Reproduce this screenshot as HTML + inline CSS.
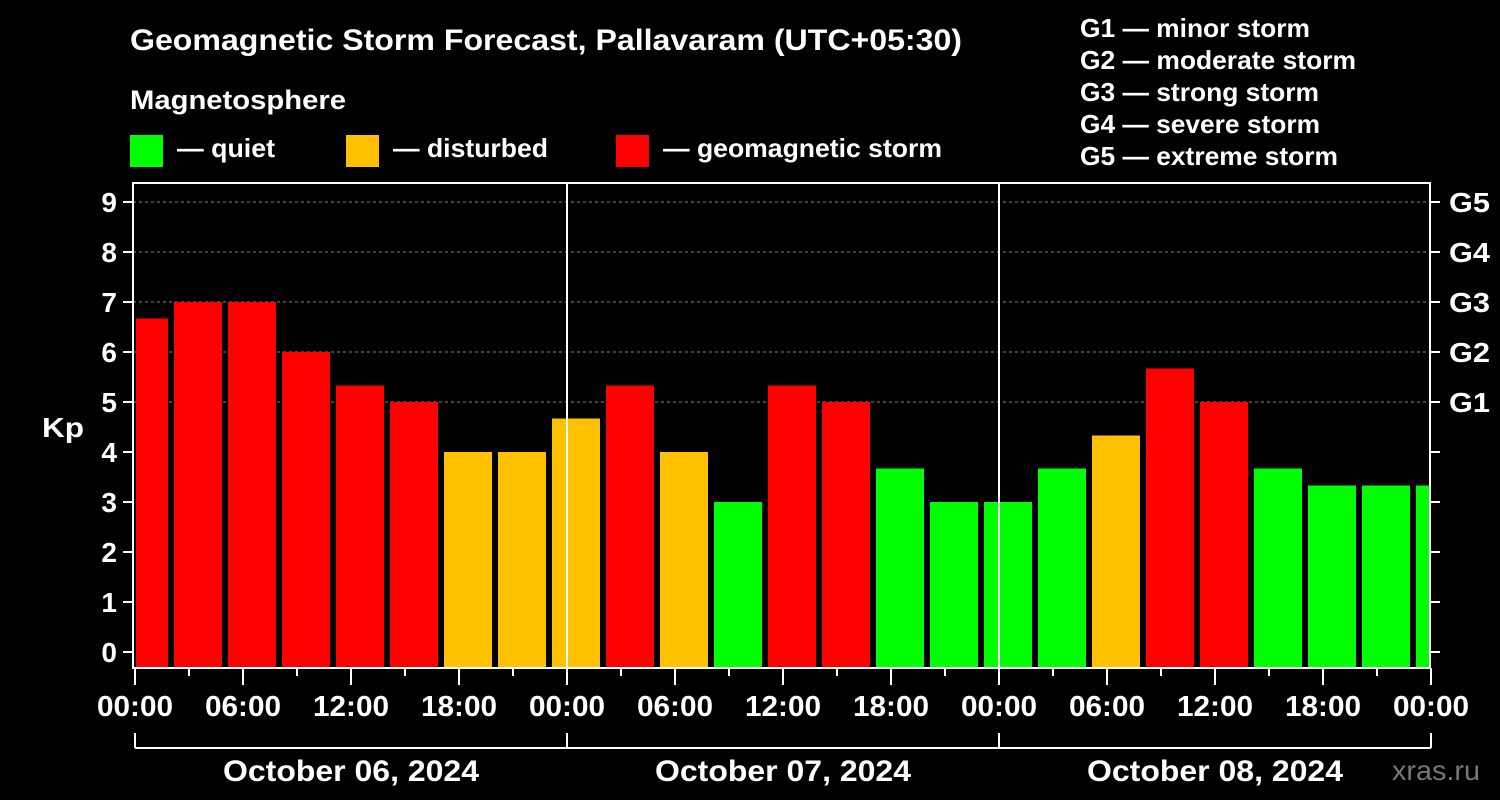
<!DOCTYPE html>
<html><head><meta charset="utf-8"><style>
html,body{margin:0;padding:0;background:#000;}
svg{display:block;font-family:"Liberation Sans",sans-serif;font-weight:bold;}
</style></head><body>
<svg id="chart" width="1500" height="800" viewBox="0 0 1500 800">
<rect width="1500" height="800" fill="#000"/>
<text x="130" y="50" fill="#fff" font-size="30" textLength="832" lengthAdjust="spacingAndGlyphs">Geomagnetic Storm Forecast, Pallavaram (UTC+05:30)</text>
<text x="130" y="109" fill="#fff" font-size="27" textLength="216" lengthAdjust="spacingAndGlyphs">Magnetosphere</text>
<g><rect x="130" y="135" width="33" height="32" fill="#00ff00"/><text x="177" y="157" fill="#fff" font-size="26" textLength="98" lengthAdjust="spacingAndGlyphs">— quiet</text></g>
<g><rect x="346" y="135" width="33" height="32" fill="#ffc000"/><text x="393" y="157" fill="#fff" font-size="26" textLength="155" lengthAdjust="spacingAndGlyphs">— disturbed</text></g>
<g><rect x="616" y="135" width="33" height="32" fill="#ff0000"/><text x="663" y="157" fill="#fff" font-size="26" textLength="279" lengthAdjust="spacingAndGlyphs">— geomagnetic storm</text></g>
<g fill="#fff" font-size="26">
<text x="1080" y="37" textLength="230" lengthAdjust="spacingAndGlyphs">G1 — minor storm</text>
<text x="1080" y="69" textLength="276" lengthAdjust="spacingAndGlyphs">G2 — moderate storm</text>
<text x="1080" y="101" textLength="239" lengthAdjust="spacingAndGlyphs">G3 — strong storm</text>
<text x="1080" y="133" textLength="240" lengthAdjust="spacingAndGlyphs">G4 — severe storm</text>
<text x="1080" y="165" textLength="258" lengthAdjust="spacingAndGlyphs">G5 — extreme storm</text>
</g>
<text x="42" y="437" fill="#fff" font-size="28" textLength="42" lengthAdjust="spacingAndGlyphs">Kp</text>
<text x="1392" y="780" fill="#777" font-size="28" font-weight="normal" textLength="88" lengthAdjust="spacingAndGlyphs">xras.ru</text>
<g id="plot"></g>
</svg>
<script>
const kpValues=[6.67,7,7,6,5.33,5,4,4,4.67,5.33,4,3,5.33,5,3.67,3,3,3.67,4.33,5.67,5,3.67,3.33,3.33,3.33];
const yTicks=[0,1,2,3,4,5,6,7,8,9];
const gLabels=["G1","G2","G3","G4","G5"];
const hourLabels=["00:00","06:00","12:00","18:00","00:00","06:00","12:00","18:00","00:00","06:00","12:00","18:00","00:00"];
const dateLabels=["October 06, 2024","October 07, 2024","October 08, 2024"];
const NS="http://www.w3.org/2000/svg";
const g=document.getElementById('plot');
const L=133,R=1430,T=183,B=668;
const y=v=>652-v*50;
const xh=h=>135+h*18;
function mk(t,a){const e=document.createElementNS(NS,t);for(const k in a)e.setAttribute(k,a[k]);g.appendChild(e);return e;}
for(let v=5;v<=9;v++){const l=mk('line',{x1:L,x2:R,y1:y(v),y2:y(v),stroke:'#888','stroke-dasharray':'3,3'});

}
kpValues.forEach((v,i)=>{const c=xh(0.5+3*i);let x0=Math.max(c-24,136),x1=Math.min(c+24,R);
const col=v>=5?'#ff0000':(v>=4?'#ffc000':'#00ff00');
const r=mk('rect',{x:x0,y:y(v),width:x1-x0,height:B-1-y(v),fill:col});

});
[1,2].forEach(d=>{const l=mk('line',{x1:xh(24*d),x2:xh(24*d),y1:T,y2:B,stroke:'#fff','stroke-width':2});

});
const f=mk('rect',{x:L,y:T,width:R-L,height:B-T,fill:'none',stroke:'#fff','stroke-width':2});


yTicks.forEach(v=>{mk('line',{x1:L-10,x2:L,y1:y(v),y2:y(v),stroke:'#fff','stroke-width':2});
mk('line',{x1:R,x2:R+10,y1:y(v),y2:y(v),stroke:'#fff','stroke-width':2});
const t=mk('text',{x:L-16,y:y(v)+10,fill:'#fff','font-size':28,'text-anchor':'end'});t.textContent=v;

});
gLabels.forEach((s,i)=>{const t=mk('text',{x:1449,y:y(5+i)+10,fill:'#fff','font-size':28,textLength:41,lengthAdjust:'spacingAndGlyphs'});t.textContent=s;

});
for(let h=0;h<=72;h+=3){const maj=h%6==0;mk('line',{x1:xh(h),x2:xh(h),y1:B,y2:B+(maj?17:8),stroke:'#fff','stroke-width':2});}
hourLabels.forEach((s,i)=>{const t=mk('text',{x:xh(6*i),y:716,fill:'#fff','font-size':29,'text-anchor':'middle',textLength:76,lengthAdjust:'spacingAndGlyphs'});t.textContent=s;

});
mk('line',{x1:xh(0),x2:xh(72),y1:748,y2:748,stroke:'#fff','stroke-width':2});
for(let d=0;d<=3;d++)mk('line',{x1:xh(24*d),x2:xh(24*d),y1:733,y2:748,stroke:'#fff','stroke-width':2});
dateLabels.forEach((s,i)=>{const t=mk('text',{x:xh(24*i+12),y:781,fill:'#fff','font-size':30,'text-anchor':'middle',textLength:256,lengthAdjust:'spacingAndGlyphs'});t.textContent=s;

});
</script>
</body></html>
